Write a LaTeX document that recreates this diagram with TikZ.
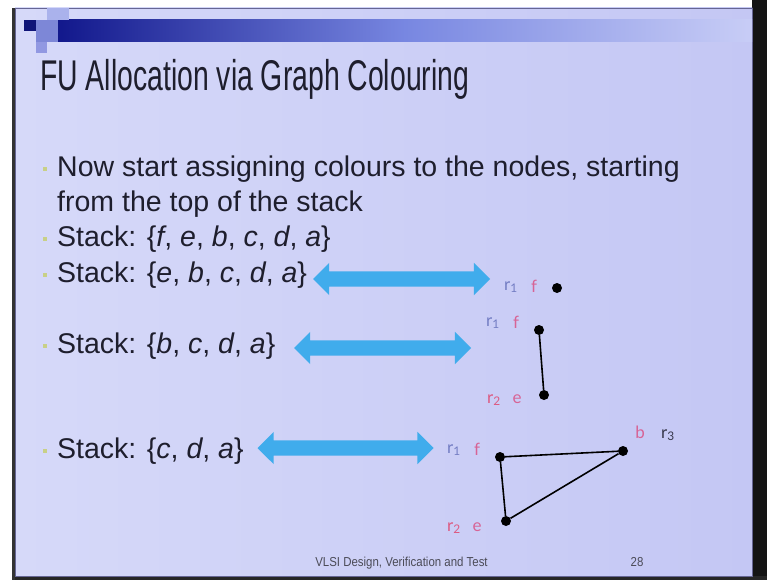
\documentclass[tikz,border=0pt]{standalone}
\usepackage{fontspec}
\setmainfont{Liberation Sans}
\newfontfamily\titlefont[FakeStretch=0.66]{Liberation Sans}
\newfontfamily\footfont[FakeStretch=0.88]{Liberation Sans}
\newfontfamily\lblfont{Lato}
\usetikzlibrary{shapes.arrows}
\definecolor{slideA}{RGB}{214,217,249}
\definecolor{slideB}{RGB}{196,199,244}
\definecolor{navy}{RGB}{18,24,140}
\definecolor{barmid}{RGB}{120,135,225}
\definecolor{barlight}{RGB}{200,205,246}
\definecolor{sqdark}{RGB}{15,20,120}
\definecolor{sqmid}{RGB}{125,135,215}
\definecolor{sqlight}{RGB}{170,178,236}
\definecolor{sqmid2}{RGB}{145,152,226}
\definecolor{arrowblue}{RGB}{64,172,236}
\definecolor{bulletc}{RGB}{200,208,135}
\definecolor{txt}{RGB}{30,30,45}
\definecolor{rone}{RGB}{115,125,195}
\definecolor{rtwo}{RGB}{220,90,130}
\definecolor{rthree}{RGB}{55,55,75}
\definecolor{vname}{RGB}{215,100,150}
\tikzset{
  bodytext/.style={anchor=base west, inner sep=0pt, text=txt, font=\fontsize{28.5}{32}\selectfont},
  bulletsq/.style={fill=bulletc, draw=none, minimum size=4pt, inner sep=0pt},
  blockarrow/.style={double arrow, fill=arrowblue, draw=none, inner sep=7.5pt,
     minimum width=32pt, double arrow head extend=8.5pt, double arrow tip angle=90},
  vdot/.style={circle, fill=black, minimum size=10pt, inner sep=0pt},
  gedge/.style={black, line width=1.6pt},
  lbl/.style={inner sep=0pt, font=\lblfont\fontsize{17}{18}\selectfont},
}
\begin{document}
\begin{tikzpicture}[x=1pt,y=-1pt]
\useasboundingbox (0,0) rectangle (767,580);
% frame
\fill[white] (0,0) rectangle (767,580);
\fill[black!92] (752,0) rectangle (767,580);
\fill[black!85] (12,576) rectangle (767,580);
\fill[black!80] (12,8) rectangle (15,580);
\shade[left color=slideA, right color=slideB] (15,8) rectangle (752,576);
\draw[blue!30!black!60, line width=0.8pt] (15,8) rectangle (752,576);
% top decoration
\shade[left color=navy, right color=barlight, middle color=barmid] (58,20) rectangle (752,42);
\fill[sqdark] (24,20) rectangle (36,31);
\fill[sqmid] (36,20) rectangle (58,42);
\fill[sqlight] (47,8) rectangle (69,20);
\fill[sqmid2] (36,42) rectangle (47,53);
% title
\node[anchor=base west, inner sep=0pt, text=txt, font=\titlefont\fontsize{43}{48}\selectfont] (title) at (40,91) {FU Allocation via Graph Colouring};
% bullets
\node[bodytext] (l1) at (57,176) {Now start assigning colours to the nodes, starting};
\node[bodytext] (l2) at (57,211) {from the top of the stack};
\node[bodytext] (s1) at (57,246) {Stack: \{\textit{f}, \textit{e}, \textit{b}, \textit{c}, \textit{d}, \textit{a}\}};
\node[bodytext] (s2) at (57,282) {Stack: \{\textit{e}, \textit{b}, \textit{c}, \textit{d}, \textit{a}\}};
\node[bodytext] (s3) at (57,353) {Stack: \{\textit{b}, \textit{c}, \textit{d}, \textit{a}\}};
\node[bodytext] (s4) at (57,458) {Stack: \{\textit{c}, \textit{d}, \textit{a}\}};
\node[bulletsq] (b1) at (45,169) {};
\node[bulletsq] (b2) at (45,239) {};
\node[bulletsq] (b3) at (45,275) {};
\node[bulletsq] (b4) at (45,346) {};
\node[bulletsq] (b5) at (45,451) {};
% arrows
\node[blockarrow, minimum height=177pt] (a1) at (401.5,279) {};
\node[blockarrow, minimum height=177pt] (a2) at (382.5,348) {};
\node[blockarrow, minimum height=176pt] (a3) at (345.5,448) {};
% graph 1
\node[lbl, text=rone] (g1r1) at (511,287) {r\textsubscript{1}};
\node[lbl, text=vname] (g1f) at (534,286) {f};
\node[vdot] (g1fd) at (557,288) {};
% graph 2
\node[lbl, text=rone] (g2r1) at (493,323) {r\textsubscript{1}};
\node[lbl, text=vname] (g2f) at (516,322) {f};
\node[vdot] (g2fd) at (539,330) {};
\node[lbl, text=rtwo] (g2r2) at (494,400) {r\textsubscript{2}};
\node[lbl, text=vname] (g2e) at (517,399) {e};
\node[vdot] (g2ed) at (544,395) {};
\draw[gedge] (g2fd) -- (g2ed);
% graph 3
\node[lbl, text=rone] (g3r1) at (454,450) {r\textsubscript{1}};
\node[lbl, text=vname] (g3f) at (477,449) {f};
\node[vdot] (g3fd) at (500,457) {};
\node[lbl, text=vname] (g3b) at (640,432) {b};
\node[lbl, text=rthree] (g3r3) at (668,435) {r\textsubscript{3}};
\node[vdot] (g3bd) at (623,451) {};
\node[lbl, text=rtwo] (g3r2) at (454,528) {r\textsubscript{2}};
\node[lbl, text=vname] (g3e) at (477,527) {e};
\node[vdot] (g3ed) at (506,521) {};
\draw[gedge] (g3fd) -- (g3bd);
\draw[gedge] (g3fd) -- (g3ed);
\draw[gedge] (g3ed) -- (g3bd);
% footer
\node[anchor=base, inner sep=0pt, text=txt!80, font=\footfont\fontsize{13}{14}\selectfont] (foot) at (401.5,566) {VLSI Design, Verification and Test};
\node[anchor=base, inner sep=0pt, text=txt!80, font=\footfont\fontsize{13}{14}\selectfont] (page) at (637,566) {28};
\end{tikzpicture}
\end{document}
